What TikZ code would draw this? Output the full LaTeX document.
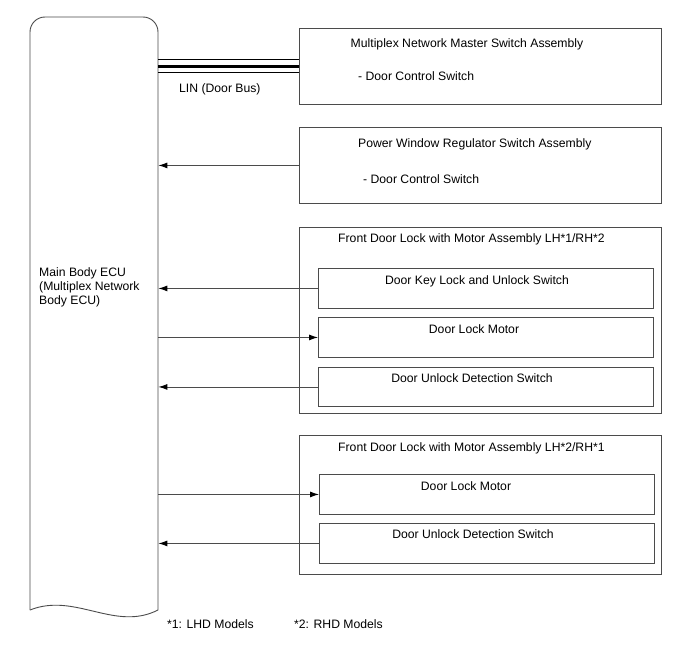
\documentclass[tikz,border=0pt]{standalone}
\usepackage{fontspec}
\setmainfont{Liberation Sans}
\usetikzlibrary{arrows.meta}
\definecolor{linec}{RGB}{75,75,75}
\tikzset{
  ln/.style={draw=linec, line width=0.9pt},
  boxnode/.style={ln, anchor=north west, inner sep=0pt, minimum width=#1},
  lbl/.style={inner sep=0pt, font=\fontsize{12.2}{14}\selectfont, text=black},
  arr/.style={ln, -{Latex[length=9pt,width=6pt,color=black]}},
}
\begin{document}
\begin{tikzpicture}[x=1pt,y=-1pt]
\useasboundingbox (0,0) rectangle (688,658);
% ECU
\node[anchor=north west, inner sep=0pt, minimum width=128pt, minimum height=595pt] (ecu) at (30,17) {};
\draw[ln, rounded corners=15pt] (30,610) -- (30,17) -- (158,17) -- (158,610);
\draw[ln] (158,610) .. controls (115,632) and (75,592) .. (30,610);
\node[lbl, anchor=west, align=left] (ecut) at (39,287) {Main Body ECU\\(Multiplex Network\\Body ECU)};

% boxes
\node[boxnode=362pt, minimum height=76pt] (b1) at (299,28) {};
\node[boxnode=362pt, minimum height=76pt] (b2) at (299,127) {};
\node[boxnode=362pt, minimum height=186pt] (b3) at (299,227) {};
\node[boxnode=335pt, minimum height=40pt] (b3a) at (318,268) {};
\node[boxnode=335pt, minimum height=40pt] (b3b) at (318,317) {};
\node[boxnode=335pt, minimum height=39pt] (b3c) at (318,367) {};
\node[boxnode=362pt, minimum height=139pt] (b4) at (299,435) {};
\node[boxnode=335pt, minimum height=40pt] (b4a) at (319,474) {};
\node[boxnode=335pt, minimum height=40pt] (b4b) at (319,523) {};

% texts
\node[lbl, anchor=base] (t1) at (467,47.4) {Multiplex Network Master Switch Assembly};
\node[lbl, anchor=base west] (t1s) at (358,80.4) {- Door Control Switch};
\node[lbl, anchor=base west] (lin) at (179,92.4) {LIN (Door Bus)};
\node[lbl, anchor=base west] (t2) at (358,147.4) {Power Window Regulator Switch Assembly};
\node[lbl, anchor=base west] (t2s) at (363,183.4) {- Door Control Switch};
\node[lbl, anchor=base west] (t3) at (338,242.4) {Front Door Lock with Motor Assembly LH*1/RH*2};
\node[lbl, anchor=base] (t3a) at (477,284.4) {Door Key Lock and Unlock Switch};
\node[lbl, anchor=base] (t3b) at (474,333.4) {Door Lock Motor};
\node[lbl, anchor=base] (t3c) at (472,382.4) {Door Unlock Detection Switch};
\node[lbl, anchor=base west] (t4) at (338,451.4) {Front Door Lock with Motor Assembly LH*2/RH*1};
\node[lbl, anchor=base] (t4a) at (466,490.4) {Door Lock Motor};
\node[lbl, anchor=base] (t4b) at (473,538.4) {Door Unlock Detection Switch};
\node[lbl, anchor=base west] (f1) at (167,628.4) {*1: LHD Models};
\node[lbl, anchor=base west] (f2) at (294,628.4) {*2: RHD Models};

% LIN bus
\draw[draw=black, line width=3pt] (b1.west -| ecu.east) -- (b1.west);
\draw[draw=black, line width=0.9pt] ([yshift=6.5pt]b1.west -| ecu.east) -- ([yshift=6.5pt]b1.west);
\draw[draw=black, line width=0.9pt] ([yshift=-6.5pt]b1.west -| ecu.east) -- ([yshift=-6.5pt]b1.west);

% connectors
\draw[arr] (b2.west) -- (b2.west -| ecu.east);
\draw[arr] (b3a.west) -- (b3a.west -| ecu.east);
\draw[arr] (b3b.west -| ecu.east) -- (b3b.west);
\draw[arr] (b3c.west) -- (b3c.west -| ecu.east);
\draw[arr] (b4a.west -| ecu.east) -- (b4a.west);
\draw[arr] (b4b.west) -- (b4b.west -| ecu.east);
\end{tikzpicture}
\end{document}
